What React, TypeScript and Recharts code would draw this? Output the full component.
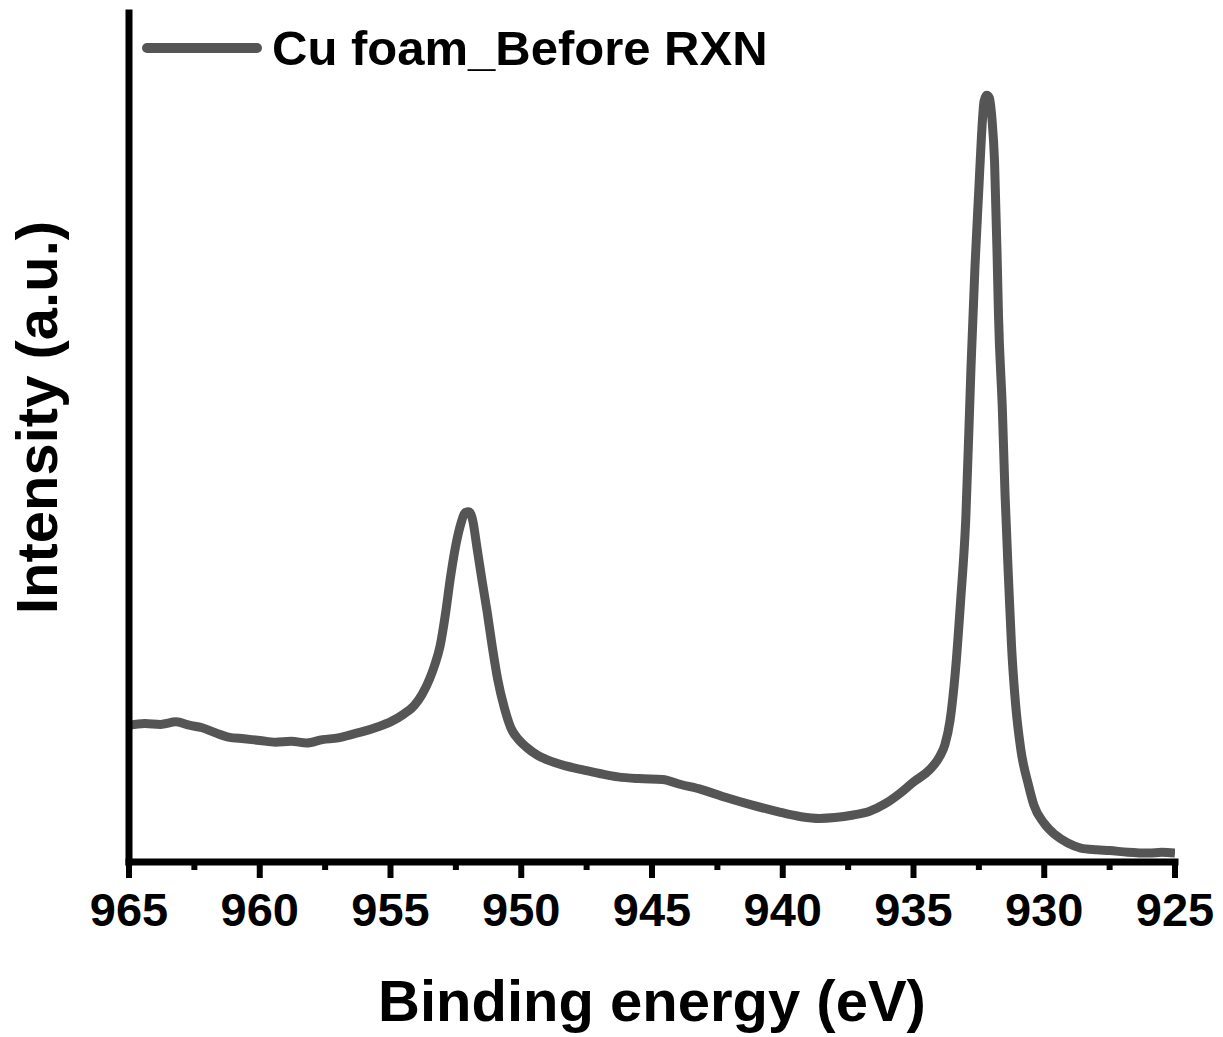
import React from 'react';
import { LineChart, Line, XAxis, YAxis, Legend } from 'recharts';

// binding energy (eV), high to low as plotted
const energy = [
  965.0, 964.4, 963.8, 963.2, 962.7, 962.2, 961.7, 961.2, 960.6, 960.0,
  959.4, 958.8, 958.2, 957.6, 957.0, 956.5, 956.0, 955.5, 955.0, 954.5,
  954.1, 953.8, 953.5, 953.3, 953.1, 952.9, 952.7, 952.5, 952.3, 952.15,
  952.0, 951.85, 951.7, 951.5, 951.3, 951.1, 950.9, 950.65, 950.4, 950.1,
  949.8, 949.4, 949.0, 948.3, 947.6, 947.0, 946.3, 945.5, 944.6, 943.9,
  943.1, 942.2, 941.2, 940.2, 939.3, 938.6, 938.0, 937.3, 936.7, 936.1,
  935.5, 935.0, 934.4, 934.0, 933.8, 933.6, 933.4, 933.2, 933.0, 932.8,
  932.65, 932.5, 932.4, 932.3, 932.2, 932.1, 932.0, 931.9, 931.8, 931.75,
  931.6, 931.5, 931.35, 931.25, 931.1, 930.9, 930.6, 930.4, 930.0, 929.6,
  929.1, 928.6, 928.0, 927.5, 926.8, 926.0, 925.5, 925.0,
];

// intensity (a.u.)
const intensity = [
  15.9, 16.1, 16.0, 16.3, 15.9, 15.6, 15.0, 14.5, 14.3, 14.1,
  13.9, 14.0, 13.8, 14.2, 14.4, 14.8, 15.2, 15.7, 16.3, 17.2,
  18.2, 19.5, 21.4, 23.1, 25.3, 29.0, 33.5, 37.2, 39.8, 41.0,
  41.1, 40.0, 37.0, 33.0, 29.2, 25.0, 21.3, 18.0, 15.6, 14.2,
  13.3, 12.4, 11.8, 11.1, 10.6, 10.2, 9.8, 9.6, 9.5, 8.9,
  8.3, 7.4, 6.5, 5.7, 5.1, 4.9, 5.0, 5.3, 5.7, 6.6,
  7.9, 9.2, 10.6, 12.2, 13.6, 16.5, 22.2, 30.5, 40.3, 58.3,
  70.0, 79.3, 85.5, 89.6, 90.3, 90.0, 87.5, 82.4, 71.0, 64.3,
  53.0, 43.2, 32.0, 25.2, 18.5, 13.1, 8.8, 6.5, 4.3, 3.0,
  2.0, 1.4, 1.2, 1.1, 0.9, 0.8, 0.9, 0.8,
];

const xTicks = [965, 962.5, 960, 957.5, 955, 952.5, 950, 947.5, 945, 942.5, 940, 937.5, 935, 932.5, 930, 927.5, 925];

const seriesName = 'Cu foam_Before RXN';

const data = energy.map((e, i) => ({ energy: e, intensity: intensity[i] }));

const FONT = '"Liberation Sans", Arial, sans-serif';
const LINE_COLOR = '#555555';

const EnergyTick = (props: any) => {
  const { x, y, payload } = props;
  const major = payload.value % 5 === 0;
  return (
    <g>
      <line x1={x} x2={x} y1={y} y2={y + (major ? 16 : 8)} stroke="#000" strokeWidth={6} />
      {major && (
        <text x={x} y={y + 64} textAnchor="middle" fontFamily={FONT} fontWeight="bold" fontSize={47} fill="#000">
          {payload.value}
        </text>
      )}
    </g>
  );
};

const LegendContent = (props: any) => {
  const item = props.payload && props.payload[0];
  if (!item) return null;
  return (
    <div style={{ display: 'flex', alignItems: 'center', height: 48 }}>
      <span style={{ display: 'inline-block', width: 120, height: 10, borderRadius: 5, background: item.color }} />
      <span style={{ marginLeft: 10, fontFamily: FONT, fontWeight: 'bold', fontSize: 49, lineHeight: '48px', color: '#000', whiteSpace: 'nowrap' }}>
        {item.value}
      </span>
    </div>
  );
};

const App = () => {
  return (
    <div style={{ position: 'absolute', left: 0, top: 0, background: '#fff' }}>
      <LineChart width={1223} height={1037} data={data} margin={{ top: 13, right: 48, bottom: 0, left: 0 }}>
        <XAxis
          dataKey="energy"
          type="number"
          domain={[925, 965]}
          reversed
          allowDataOverflow
          ticks={xTicks}
          interval={0}
          tickLine={false}
          tickSize={0}
          tickMargin={0}
          height={175}
          axisLine={{ stroke: '#000', strokeWidth: 7, strokeLinecap: 'square' }}
          tick={<EnergyTick />}
          label={{
            content: (p: any) => {
              const vb = p.viewBox;
              return (
                <text x={vb.x + vb.width / 2} y={vb.y + 159} textAnchor="middle" fontFamily={FONT} fontWeight="bold" fontSize={58} fill="#000">
                  Binding energy (eV)
                </text>
              );
            },
          }}
        />
        <YAxis
          type="number"
          domain={[-0.25, 100]}
          allowDataOverflow
          width={129}
          tick={false}
          tickLine={false}
          axisLine={{ stroke: '#000', strokeWidth: 7, strokeLinecap: 'square' }}
          label={{
            content: (p: any) => {
              const vb = p.viewBox;
              const cx = vb.x + 57;
              const cy = vb.y + vb.height / 2 - 20;
              return (
                <text x={cx} y={cy} transform={`rotate(-90 ${cx} ${cy})`} textAnchor="middle" fontFamily={FONT} fontWeight="bold" fontSize={58} fill="#000">
                  Intensity (a.u.)
                </text>
              );
            },
          }}
        />
        <Legend
          layout="vertical"
          verticalAlign="middle"
          align="center"
          content={<LegendContent />}
          wrapperStyle={{ top: 24, left: 142, width: 700 }}
        />
        <Line
          type="monotone"
          dataKey="intensity"
          name={seriesName}
          stroke={LINE_COLOR}
          strokeWidth={9}
          strokeLinejoin="round"
          dot={false}
          activeDot={false}
          isAnimationActive={false}
        />
      </LineChart>
    </div>
  );
};

export default App;
